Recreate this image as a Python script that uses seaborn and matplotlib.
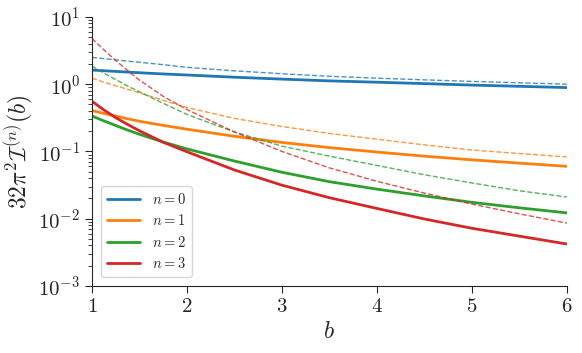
import matplotlib
matplotlib.use("Agg")
import matplotlib.pyplot as plt
import matplotlib.ticker as mticker
import seaborn as sns

# values (log scale)
b = [1.0, 1.125, 1.25, 1.375, 1.5, 1.75, 2.0, 2.5, 3.0, 3.5, 4.0, 4.5, 5.0, 5.5, 6.0]

solid_n0 = [1.62, 1.585, 1.55, 1.515, 1.48, 1.42, 1.37, 1.27, 1.19, 1.12, 1.07, 1.02, 0.97, 0.93, 0.89]
solid_n1 = [0.405, 0.368, 0.336, 0.306, 0.281, 0.244, 0.214, 0.168, 0.136, 0.114, 0.098, 0.085,
            0.075, 0.067, 0.060]
solid_n2 = [0.336, 0.285, 0.243, 0.208, 0.18, 0.138, 0.109, 0.072, 0.049, 0.0355, 0.0275, 0.0218,
            0.0175, 0.0145, 0.0122]
solid_n3 = [0.557, 0.415, 0.318, 0.252, 0.203, 0.137, 0.099, 0.053, 0.0315, 0.0205, 0.0142, 0.0099,
            0.0072, 0.0055, 0.0042]

dashed_n0 = [2.5, 2.4, 2.3, 2.2, 2.12, 1.95, 1.78, 1.58, 1.43, 1.31, 1.23, 1.16, 1.10, 1.05, 1.0]
dashed_n1 = [1.23, 1.07, 0.95, 0.84, 0.745, 0.575, 0.45, 0.31, 0.235, 0.185, 0.152, 0.125, 0.105,
             0.093, 0.083]
dashed_n2 = [1.86, 1.46, 1.17, 0.94, 0.77, 0.52, 0.355, 0.195, 0.12, 0.085, 0.062, 0.045, 0.034,
             0.026, 0.021]
dashed_n3 = [4.8, 3.25, 2.25, 1.6, 1.15, 0.66, 0.42, 0.195, 0.10, 0.057, 0.036, 0.024, 0.0165,
             0.0118, 0.0086]

labels = [r"$n=0$", r"$n=1$", r"$n=2$", r"$n=3$"]
colors = sns.color_palette("tab10", 4)

sns.set_style("ticks")
plt.rcParams["mathtext.fontset"] = "cm"
plt.rcParams["font.family"] = "serif"
plt.rcParams["font.serif"] = ["cmr10", "DejaVu Serif"]
plt.rcParams["axes.formatter.use_mathtext"] = True

fig = plt.figure(figsize=(5.82, 3.53), dpi=100)
ax = fig.add_axes([0.158, 0.19, 0.816, 0.762])

solids = [solid_n0, solid_n1, solid_n2, solid_n3]
dashes = [dashed_n0, dashed_n1, dashed_n2, dashed_n3]
for i in range(4):
    sns.lineplot(x=b, y=solids[i], ax=ax, color=colors[i], lw=2, label=labels[i])
    sns.lineplot(x=b, y=dashes[i], ax=ax, color=colors[i], lw=1, alpha=0.8,
                 linestyle="--")

ax.set_yscale("log")
ax.set_xlim(1, 6)
ax.set_ylim(1e-3, 1e1)
ax.xaxis.set_major_formatter(mticker.FuncFormatter(lambda v, p: f"${v:g}$"))
ax.tick_params(axis="both", which="major", labelsize=15, length=5)
ax.tick_params(axis="y", which="minor", length=3)

ax.set_xlabel(r"$b$", fontsize=17)
ax.set_ylabel(r"$32\pi^2\mathcal{I}^{(n)}(b)$", fontsize=17, labelpad=2)

ax.legend(loc="lower left", fontsize=10.5, frameon=True, fancybox=True,
          handlelength=2.3, labelspacing=0.45, borderaxespad=0.6)
sns.despine(ax=ax)

fig.savefig("out.png", dpi=100)
